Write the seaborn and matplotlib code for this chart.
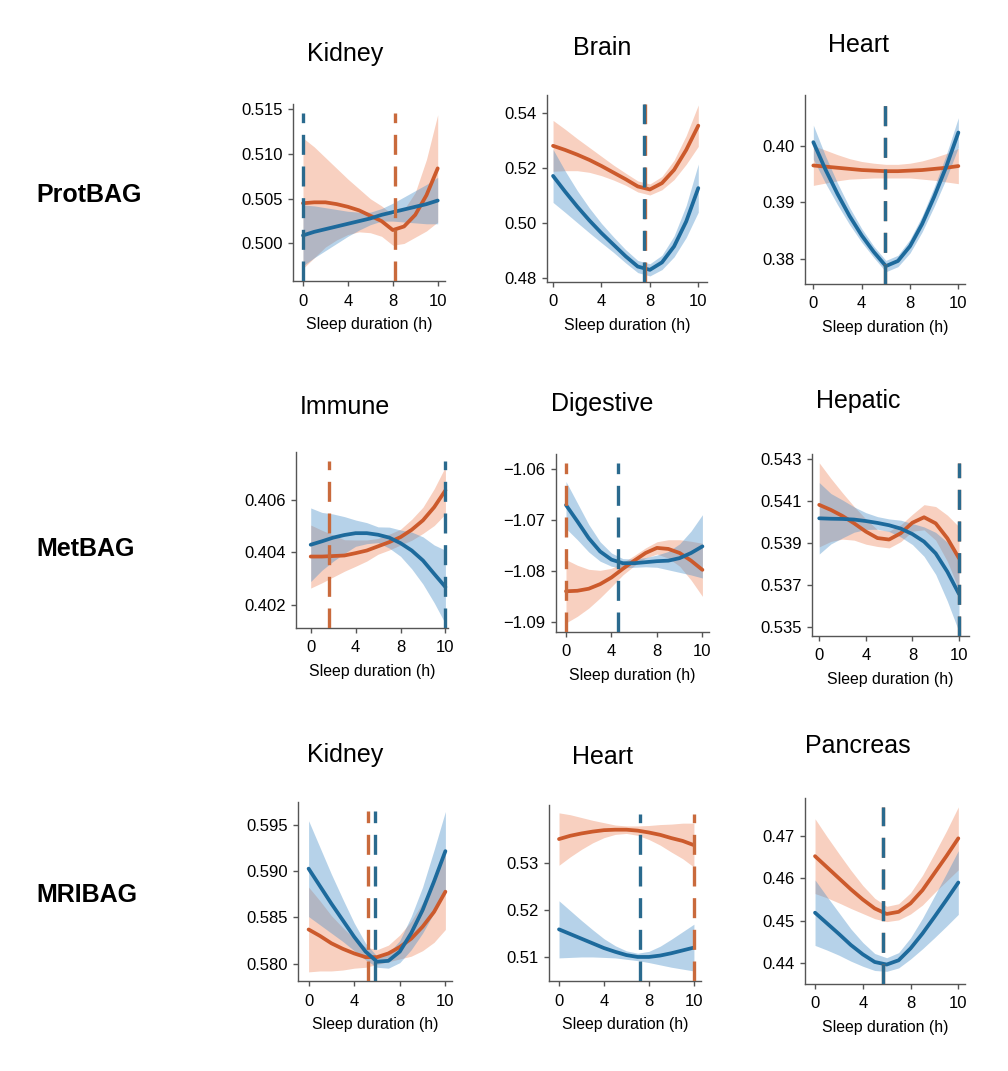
import numpy as np
import pandas as pd
import seaborn as sns
import matplotlib.pyplot as plt

# position along the x axis (ticks are evenly spaced but labelled 0, 4, 8, 10)
sleep_pos = np.arange(13)
tick_pos = [0, 4, 8, 12]
tick_labels = ['0', '4', '8', '10']

row_names = ['ProtBAG', 'MetBAG', 'MRIBAG']

# ---- ProtBAG ----
prot_kidney_orange = [0.5045, 0.5046, 0.5046, 0.5044, 0.5041, 0.5037, 0.5031, 0.5025, 0.5015, 0.5019, 0.5032, 0.5054, 0.5084]
prot_kidney_orange_ci = [0.0073, 0.0062, 0.0050, 0.0040, 0.0031, 0.0024, 0.0019, 0.0017, 0.0017, 0.0019, 0.0025, 0.0040, 0.0060]
prot_kidney_blue = [0.5009, 0.5013, 0.5016, 0.5019, 0.5022, 0.5025, 0.5028, 0.5032, 0.5035, 0.5038, 0.5041, 0.5044, 0.5048]
prot_kidney_blue_ci = [0.0034, 0.0029, 0.0024, 0.0019, 0.0014, 0.0010, 0.0007, 0.0007, 0.0010, 0.0014, 0.0018, 0.0022, 0.0026]

prot_brain_orange = [0.5280, 0.5265, 0.5248, 0.5229, 0.5207, 0.5183, 0.5159, 0.5133, 0.5122, 0.5145, 0.5193, 0.5265, 0.5353]
prot_brain_orange_ci = [0.0092, 0.0075, 0.0058, 0.0045, 0.0035, 0.0027, 0.0022, 0.0020, 0.0020, 0.0024, 0.0035, 0.0052, 0.0075]
prot_brain_blue = [0.5171, 0.5114, 0.5060, 0.5010, 0.4964, 0.4922, 0.4880, 0.4843, 0.4831, 0.4858, 0.4916, 0.5006, 0.5127]
prot_brain_blue_ci = [0.0096, 0.0075, 0.0058, 0.0045, 0.0035, 0.0028, 0.0024, 0.0022, 0.0022, 0.0026, 0.0038, 0.0058, 0.0087]

prot_heart_orange = [0.3965, 0.3963, 0.3961, 0.3959, 0.3957, 0.3956, 0.3955, 0.3955, 0.3956, 0.3957, 0.3959, 0.3961, 0.3964]
prot_heart_orange_ci = [0.0035, 0.0029, 0.0023, 0.0018, 0.0015, 0.0013, 0.0012, 0.0012, 0.0013, 0.0016, 0.0020, 0.0025, 0.0031]
prot_heart_blue = [0.4006, 0.3958, 0.3915, 0.3876, 0.3842, 0.3813, 0.3788, 0.3797, 0.3823, 0.3862, 0.3910, 0.3963, 0.4023]
prot_heart_blue_ci = [0.0030, 0.0024, 0.0019, 0.0015, 0.0012, 0.0010, 0.0010, 0.0010, 0.0012, 0.0014, 0.0017, 0.0021, 0.0026]

# ---- MetBAG ----
met_immune_orange = [0.40383, 0.40383, 0.40385, 0.40387, 0.40396, 0.40406, 0.40422, 0.40438, 0.40457, 0.40485, 0.40521, 0.40571, 0.40635]
met_immune_orange_ci = [0.0012, 0.0010, 0.0008, 0.0006, 0.0005, 0.0004, 0.0003, 0.0003, 0.0003, 0.0004, 0.0005, 0.0007, 0.0009]
met_immune_blue = [0.40428, 0.40441, 0.40455, 0.40465, 0.40472, 0.40472, 0.40466, 0.40455, 0.40434, 0.40406, 0.40368, 0.40317, 0.40267]
met_immune_blue_ci = [0.0014, 0.0011, 0.0009, 0.0007, 0.0005, 0.0004, 0.0003, 0.0004, 0.0005, 0.0007, 0.0009, 0.0011, 0.0014]

met_digestive_orange = [-1.0839, -1.0838, -1.0834, -1.0825, -1.0812, -1.0795, -1.0779, -1.0764, -1.0754, -1.0756, -1.0764, -1.0779, -1.0797]
met_digestive_orange_ci = [0.0062, 0.0050, 0.0038, 0.0027, 0.0018, 0.0012, 0.0010, 0.0010, 0.0012, 0.0018, 0.0026, 0.0038, 0.0052]
met_digestive_blue = [-1.0670, -1.0702, -1.0735, -1.0761, -1.0777, -1.0784, -1.0784, -1.0782, -1.0780, -1.0779, -1.0774, -1.0764, -1.0751]
met_digestive_blue_ci = [0.0046, 0.0036, 0.0027, 0.0019, 0.0013, 0.0009, 0.0008, 0.0009, 0.0012, 0.0018, 0.0028, 0.0043, 0.0062]

met_hepatic_orange = [0.54083, 0.54059, 0.54030, 0.53995, 0.53956, 0.53925, 0.53918, 0.53948, 0.53998, 0.54024, 0.53995, 0.53924, 0.53829]
met_hepatic_orange_ci = [0.0020, 0.0015, 0.0011, 0.0008, 0.0006, 0.0004, 0.0004, 0.0004, 0.0004, 0.0006, 0.0008, 0.0011, 0.0015]
met_hepatic_blue = [0.54019, 0.54017, 0.54016, 0.54013, 0.54006, 0.53997, 0.53986, 0.53970, 0.53944, 0.53908, 0.53852, 0.53765, 0.53659]
met_hepatic_blue_ci = [0.0017, 0.0012, 0.0009, 0.0006, 0.0004, 0.0003, 0.0003, 0.0004, 0.0005, 0.0007, 0.0010, 0.0014, 0.0018]

# ---- MRIBAG ----
mri_kidney_orange = [0.5837, 0.5830, 0.5822, 0.5816, 0.5811, 0.5807, 0.5807, 0.5811, 0.5818, 0.5827, 0.5840, 0.5856, 0.5878]
mri_kidney_orange_ci = [0.0046, 0.0038, 0.0030, 0.0023, 0.0016, 0.0011, 0.0008, 0.0009, 0.0013, 0.0019, 0.0026, 0.0033, 0.0041]
mri_kidney_blue = [0.5903, 0.5884, 0.5865, 0.5847, 0.5829, 0.5813, 0.5802, 0.5803, 0.5813, 0.5833, 0.5858, 0.5889, 0.5922]
mri_kidney_blue_ci = [0.0052, 0.0042, 0.0032, 0.0023, 0.0015, 0.0009, 0.0006, 0.0008, 0.0012, 0.0018, 0.0025, 0.0034, 0.0043]

mri_heart_orange = [0.5352, 0.5359, 0.5364, 0.5368, 0.5371, 0.5372, 0.5372, 0.5370, 0.5366, 0.5361, 0.5354, 0.5348, 0.5339]
mri_heart_orange_ci = [0.0056, 0.0045, 0.0034, 0.0024, 0.0016, 0.0010, 0.0008, 0.0010, 0.0015, 0.0022, 0.0030, 0.0038, 0.0047]
mri_heart_blue = [0.5159, 0.5149, 0.5139, 0.5129, 0.5119, 0.5111, 0.5104, 0.5100, 0.5100, 0.5103, 0.5108, 0.5114, 0.5120]
mri_heart_blue_ci = [0.0061, 0.0050, 0.0039, 0.0029, 0.0020, 0.0013, 0.0009, 0.0008, 0.0012, 0.0020, 0.0030, 0.0040, 0.0050]

mri_pancreas_orange = [0.4652, 0.4626, 0.4600, 0.4574, 0.4550, 0.4529, 0.4516, 0.4521, 0.4541, 0.4572, 0.4612, 0.4652, 0.4694]
mri_pancreas_orange_ci = [0.0088, 0.0072, 0.0058, 0.0045, 0.0033, 0.0024, 0.0018, 0.0019, 0.0025, 0.0035, 0.0046, 0.0059, 0.0074]
mri_pancreas_blue = [0.4519, 0.4494, 0.4469, 0.4443, 0.4421, 0.4403, 0.4397, 0.4407, 0.4435, 0.4470, 0.4509, 0.4549, 0.4590]
mri_pancreas_blue_ci = [0.0077, 0.0063, 0.0050, 0.0038, 0.0028, 0.0020, 0.0016, 0.0018, 0.0025, 0.0036, 0.0049, 0.0062, 0.0075]

# optimum markers (x position of the dashed lines), orange / blue
optima_orange = [8.2, 7.6, 5.93, 1.66, 0.0, 12.0, 5.18, 12.0, 5.67]
optima_blue = [0.0, 7.5, 5.93, 12.0, 4.6, 12.0, 5.83, 7.2, 5.67]

titles = ['Kidney', 'Brain', 'Heart', 'Immune', 'Digestive', 'Hepatic', 'Kidney', 'Heart', 'Pancreas']

yticks = [
    [0.500, 0.505, 0.510, 0.515],
    [0.48, 0.50, 0.52, 0.54],
    [0.38, 0.39, 0.40],
    [0.402, 0.404, 0.406],
    [-1.09, -1.08, -1.07, -1.06],
    [0.535, 0.537, 0.539, 0.541, 0.543],
    [0.580, 0.585, 0.590, 0.595],
    [0.51, 0.52, 0.53],
    [0.44, 0.45, 0.46, 0.47],
]
ytick_labels = [
    ['0.500', '0.505', '0.510', '0.515'],
    ['0.48', '0.50', '0.52', '0.54'],
    ['0.38', '0.39', '0.40'],
    ['0.402', '0.404', '0.406'],
    ['\u22121.09', '\u22121.08', '\u22121.07', '\u22121.06'],
    ['0.535', '0.537', '0.539', '0.541', '0.543'],
    ['0.580', '0.585', '0.590', '0.595'],
    ['0.51', '0.52', '0.53'],
    ['0.44', '0.45', '0.46', '0.47'],
]

curves = [
    (prot_kidney_orange, prot_kidney_orange_ci, prot_kidney_blue, prot_kidney_blue_ci),
    (prot_brain_orange, prot_brain_orange_ci, prot_brain_blue, prot_brain_blue_ci),
    (prot_heart_orange, prot_heart_orange_ci, prot_heart_blue, prot_heart_blue_ci),
    (met_immune_orange, met_immune_orange_ci, met_immune_blue, met_immune_blue_ci),
    (met_digestive_orange, met_digestive_orange_ci, met_digestive_blue, met_digestive_blue_ci),
    (met_hepatic_orange, met_hepatic_orange_ci, met_hepatic_blue, met_hepatic_blue_ci),
    (mri_kidney_orange, mri_kidney_orange_ci, mri_kidney_blue, mri_kidney_blue_ci),
    (mri_heart_orange, mri_heart_orange_ci, mri_heart_blue, mri_heart_blue_ci),
    (mri_pancreas_orange, mri_pancreas_orange_ci, mri_pancreas_blue, mri_pancreas_blue_ci),
]

# layout in pixels: axes box (left, top, right, bottom), limits, title anchor
W, H = 1008, 1071
boxes = [
    (293, 104, 445, 281), (547, 95, 707, 282), (805, 95, 965, 284),
    (296, 452, 448, 628), (556, 454, 709, 632), (812, 454, 969, 636),
    (298, 802, 452, 981), (549, 805, 701, 981), (805, 798, 965, 984),
]
xlims = [(-0.89, 12.65), (-0.5, 12.72), (-0.69, 12.55),
         (-1.31, 12.23), (-0.88, 12.58), (-0.62, 12.86),
         (-0.93, 12.58), (-0.89, 12.63), (-0.84, 12.56)]
ylims = [(0.4958, 0.5156), (0.4787, 0.5464), (0.37565, 0.4089),
         (0.40111, 0.40781), (-1.09188, -1.05700), (0.53459, 0.54325),
         (0.57811, 0.59753), (0.50486, 0.54248), (0.43512, 0.47889)]
title_xy = [(345, 61), (602, 55), (858, 52),
            (345, 414), (602, 411), (858, 408),
            (345, 762), (602, 764), (858, 753)]
row_label_y = [202, 556, 902]

ORANGE, BLUE = '#cc5a2c', '#1d6a9c'
ORANGE_BAND, BLUE_BAND = '#ee8a62', '#4a90c8'
ORANGE_DASH, BLUE_DASH = '#c96a3c', '#2a6a8e'
SPINE = '#555555'

sns.set_theme(style='ticks')
plt.rcParams['font.family'] = ['Liberation Sans', 'DejaVu Sans']
plt.rcParams['text.color'] = 'black'
plt.rcParams['axes.labelcolor'] = 'black'

fig = plt.figure(figsize=(W / 100, H / 100), dpi=100)

for i, (orange, orange_ci, blue, blue_ci) in enumerate(curves):
    l, t, r, b = boxes[i]
    ax = fig.add_axes([l / W, 1 - b / H, (r - l) / W, (b - t) / H])

    orange, orange_ci = np.array(orange), np.array(orange_ci)
    blue, blue_ci = np.array(blue), np.array(blue_ci)
    ax.fill_between(sleep_pos, orange - orange_ci, orange + orange_ci,
                    color=ORANGE_BAND, alpha=0.4, lw=0)
    ax.fill_between(sleep_pos, blue - blue_ci, blue + blue_ci,
                    color=BLUE_BAND, alpha=0.4, lw=0)

    df = pd.DataFrame({
        'pos': np.concatenate([sleep_pos, sleep_pos]),
        'bag': np.concatenate([orange, blue]),
        'group': ['orange'] * len(sleep_pos) + ['blue'] * len(sleep_pos),
    })
    sns.lineplot(data=df, x='pos', y='bag', hue='group',
                 palette={'orange': ORANGE, 'blue': BLUE},
                 lw=2.7, legend=False, ax=ax)

    ax.axvline(optima_orange[i], ymin=0, ymax=0.95, color=ORANGE_DASH,
               lw=2.4, ls=(0, (6, 3.5)), zorder=5)
    ax.axvline(optima_blue[i], ymin=0, ymax=0.95, color=BLUE_DASH,
               lw=2.4, ls=(0, (6, 3.5)), zorder=6)

    ax.set_xlim(*xlims[i])
    ax.set_ylim(*ylims[i])
    ax.set_xticks(tick_pos, tick_labels)
    ax.set_yticks(yticks[i], ytick_labels[i])
    ax.set_xlabel('Sleep duration (h)', fontsize=11.4, labelpad=6)
    ax.set_ylabel('')
    ax.tick_params(labelsize=12, length=3.5, width=1, color=SPINE,
                   labelcolor='black')
    ax.tick_params(axis='x', pad=5.5)
    ax.tick_params(axis='y', pad=4)
    for s in ['left', 'bottom']:
        ax.spines[s].set_color(SPINE)
        ax.spines[s].set_linewidth(1)
    sns.despine(ax=ax)

    tx, ty = title_xy[i]
    fig.text(tx / W, 1 - ty / H, titles[i], fontsize=18,
             ha='center', va='baseline', color='black')

for name, y in zip(row_names, row_label_y):
    fig.text(36 / W, 1 - y / H, name, fontsize=18, fontweight='bold',
             ha='left', va='baseline', color='black')

fig.savefig('out.png', dpi=100, facecolor='white')
